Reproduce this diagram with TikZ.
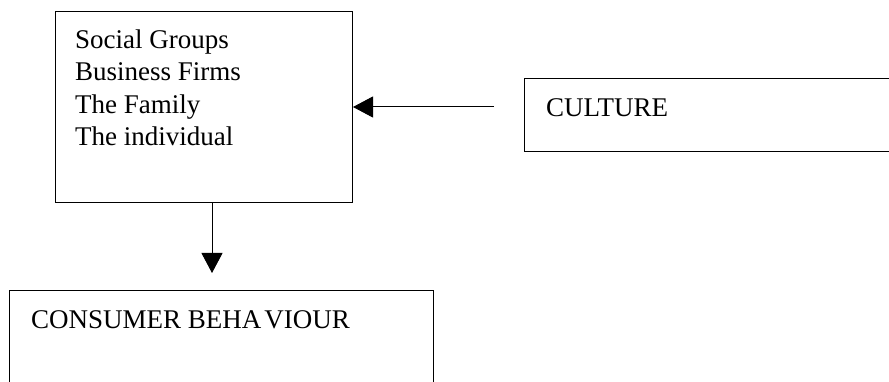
\documentclass[tikz,border=0pt]{standalone}
\usepackage{fontspec}
\setmainfont{Liberation Serif}
\usetikzlibrary{arrows.meta}

\tikzset{
  boxnode/.style={draw=black, line width=1pt, rectangle, inner sep=0pt, anchor=north west},
  label/.style={inner sep=0pt, anchor=base west, font=\fontsize{27}{32.6}\selectfont},
  arrowline/.style={draw=black, line width=1pt,
    -{Triangle[length=20pt,width=21pt]}}
}

\begin{document}
\begin{tikzpicture}[x=1pt, y=-1pt]
  \clip (0,0) rectangle (889,382);
  \fill[white] (0,0) rectangle (889,382);

  % boxes
  \node[boxnode, minimum width=297pt, minimum height=191pt] (groups) at (55,11) {};
  \node[boxnode, minimum width=400pt, minimum height=73pt] (culture) at (524,78) {};
  \node[boxnode, minimum width=424pt, minimum height=140pt] (behaviour) at (9,290) {};

  % texts
  \node[label] (g1) at (75,48.3) {Social Groups};
  \node[label] (g2) at (75,81.0) {Business Firms};
  \node[label] (g3) at (75,113.5) {The Family};
  \node[label] (g4) at (75,146.0) {The individual};
  \node[label] (ctext) at (546,117) {CULTURE};
  \node[label] (btext) at (31,328) {CONSUMER BEHA\kern3pt VIOUR};

  % connectors
  \coordinate (hstart) at (494,107);
  \coordinate (vtip) at (212,273);
  \draw[arrowline] (hstart) -- (groups.east |- hstart);
  \draw[arrowline] (groups.south -| vtip) -- (vtip);
\end{tikzpicture}
\end{document}
